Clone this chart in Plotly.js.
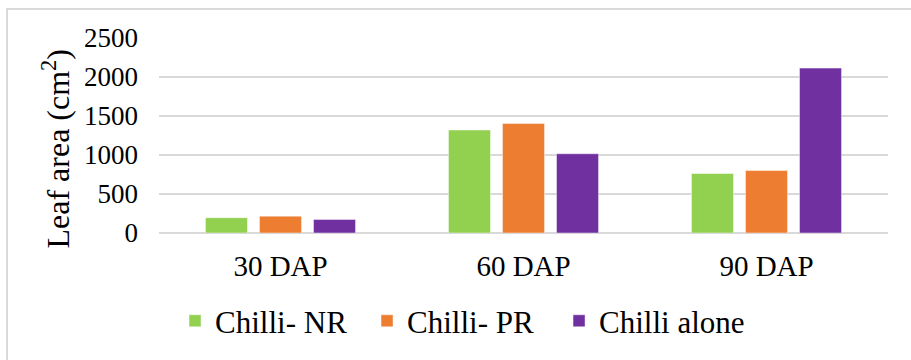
<!DOCTYPE html>
<html>
<head>
<meta charset="utf-8">
<script src="https://cdn.plot.ly/plotly-3.0.1.min.js"></script>
<style>
  html, body { margin: 0; padding: 0; background: #fff; overflow: hidden; }
  #wrap { position: relative; width: 911px; height: 360px; }
  #frame { position: absolute; left: 6px; top: 8px; width: 930px; height: 380px;
           border: 2px solid #d9d9d9; box-sizing: border-box; pointer-events: none; }
  #chart { position: absolute; left: 0; top: 0; width: 911px; height: 360px; }
</style>
</head>
<body>
<div id="wrap">
  <div id="chart"></div>
  <div id="frame"></div>
</div>
<script>
// Leaf area by days after planting
const stages = ['30 DAP', '60 DAP', '90 DAP'];
const chilliNR = [196, 1320, 763];
const chilliPR = [216, 1405, 801];
const chilliAlone = [174, 1016, 2114];
const yTicks = [0, 500, 1000, 1500, 2000, 2500];

const serif = 'Liberation Serif';

function barTrace(name, values, color) {
  return {
    type: 'bar',
    name: name,
    x: stages,
    y: values,
    marker: { color: color, line: { color: 'rgba(255,255,255,0.45)', width: 1 } },
    hoverinfo: 'skip'
  };
}

const data = [
  barTrace('Chilli- NR', chilliNR, '#92D050'),
  barTrace('Chilli- PR', chilliPR, '#ED7D31'),
  barTrace('Chilli alone', chilliAlone, '#7030A0')
];

const layout = {
  width: 911,
  height: 360,
  margin: { l: 159, r: 23, t: 38, b: 125 },
  paper_bgcolor: '#fff',
  plot_bgcolor: '#fff',
  barmode: 'group',
  bargap: 0.333,
  bargroupgap: 0.222,
  font: { family: serif, color: '#000', size: 27 },
  xaxis: {
    type: 'category',
    showgrid: false,
    showline: false,
    ticks: '',
    ticklabelstandoff: 13,
    tickfont: { family: serif, size: 29, color: '#000' }
  },
  yaxis: {
    range: [0, 2500],
    tickvals: yTicks,
    ticktext: yTicks.map(String),
    showgrid: true,
    gridcolor: '#d9d9d9',
    gridwidth: 2,
    zeroline: true,
    zerolinecolor: '#d9d9d9',
    zerolinewidth: 2,
    showline: false,
    ticks: '',
    ticklabelstandoff: 20,
    tickfont: { family: serif, size: 27, color: '#000' }
  },
  showlegend: true,
  legend: {
    orientation: 'h',
    x: 0.022,
    xanchor: 'left',
    y: -0.452,
    yanchor: 'middle',
    entrywidth: 147,
    font: { family: serif, size: 31, color: '#000' },
    traceorder: 'normal',
    bgcolor: 'rgba(0,0,0,0)'
  },
  annotations: [{
    text: 'Leaf area (cm<sup>2</sup>)',
    textangle: -90,
    xref: 'paper', yref: 'paper',
    x: -0.1416, y: 0.432,
    xanchor: 'center', yanchor: 'middle',
    showarrow: false,
    font: { family: serif, size: 32, color: '#000' }
  }]
};

Plotly.newPlot('chart', data, layout, { displayModeBar: false, staticPlot: true });
</script>
</body>
</html>
